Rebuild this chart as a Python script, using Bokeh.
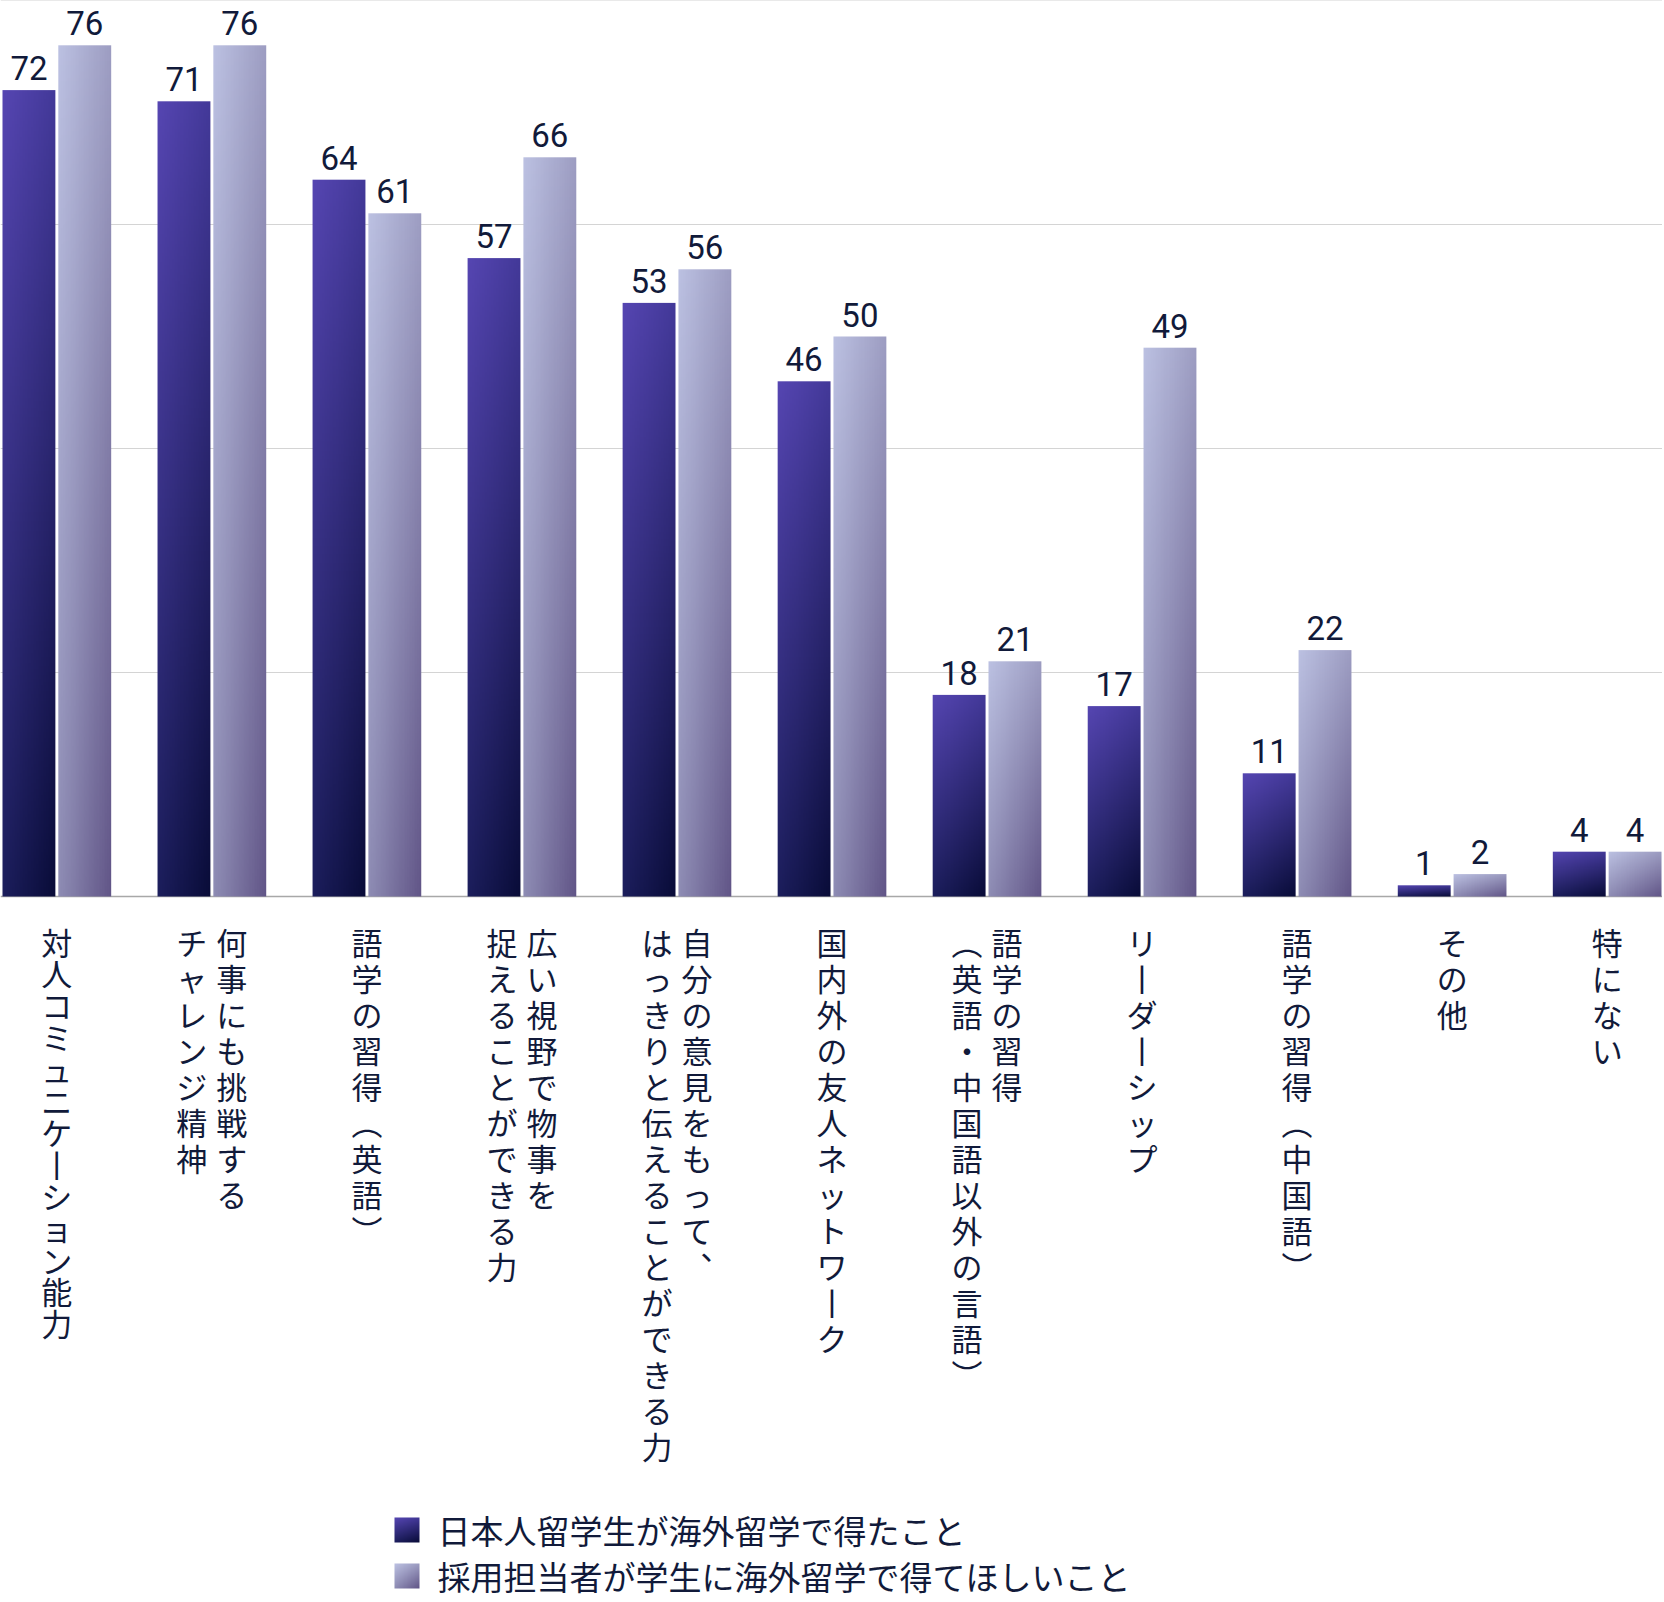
import numpy as np
from bokeh.plotting import figure
from bokeh.models import Range1d, Span
from bokeh.core.properties import value
from bokeh.embed import file_html
from bokeh.resources import INLINE

# ---------------- data ----------------
categories = [
    ["対人コミュニケーション能力"],
    ["何事にも挑戦する", "チャレンジ精神"],
    ["語学の習得（英語）"],
    ["広い視野で物事を", "捉えることができる力"],
    ["自分の意見をもって、", "はっきりと伝えることができる力"],
    ["国内外の友人ネットワーク"],
    ["語学の習得", "（英語・中国語以外の言語）"],
    ["リーダーシップ"],
    ["語学の習得（中国語）"],
    ["その他"],
    ["特にない"],
]
students = [72, 71, 64, 57, 53, 46, 18, 17, 11, 1, 4]
recruiters = [76, 76, 61, 66, 56, 50, 21, 49, 22, 2, 4]
series_names = ["日本人留学生が海外留学で得たこと", "採用担当者が学生に海外留学で得てほしいこと"]
grid_ticks = [20, 40, 60, 80]

# ---------------- layout helpers ----------------
W, H = 1662, 1600
BAR_W = 0.341
OFF = 0.180
n_cat = len(categories)
_left_edge = -OFF - BAR_W / 2
_right_edge = (n_cat - 1) + OFF + BAR_W / 2
SX = (1661 - 2) / (_right_edge - _left_edge)
X0 = _left_edge - 2 / SX
X1 = X0 + W / SX
SY = 896 / 80
Y1 = 80
Y0 = -(H - 896) / SY


def px2x(px):
    return X0 + px / SX


def py2y(py):
    return -(py - 896) / SY


FONT = value("Noto Sans CJK JP")
NUM_FONT = value("Roboto")
TXT = "#111a3a"


def grad(tl, tr, bl, br, w=32, h=256):
    tl, tr, bl, br = [np.array([int(c[i:i + 2], 16) for i in (1, 3, 5)], float) for c in (tl, tr, bl, br)]
    u = np.linspace(0, 1, w)[None, :, None]
    v = np.linspace(1, 0, h)[:, None, None]  # row 0 = bottom -> v=1
    col = (1 - u) * (1 - v) * tl + u * (1 - v) * tr + (1 - u) * v * bl + u * v * br
    img = np.empty((h, w), dtype=np.uint32)
    view = img.view(dtype=np.uint8).reshape((h, w, 4))
    view[..., :3] = np.clip(col, 0, 255).astype(np.uint8)
    view[..., 3] = 255
    return img


dark_img = grad("#5646b2", "#433999", "#1c1e5c", "#090c38")
light_img = grad("#bcc1e2", "#9d9dc2", "#8e8cb4", "#615587")

p = figure(width=W, height=H, x_range=Range1d(X0, X1), y_range=Range1d(Y0, Y1),
           output_backend="svg", toolbar_location=None,
           x_axis_location=None, y_axis_location=None, min_border=0)
p.outline_line_color = None
p.xgrid.visible = False
p.ygrid.visible = False
p.background_fill_color = "white"
p.border_fill_color = "white"

for t in grid_ticks:
    p.add_layout(Span(location=t, dimension="width", line_color="#d4d4d4", line_width=1, level="underlay"))
p.add_layout(Span(location=0, dimension="width", line_color="#a8a8a8", line_width=1.5, level="underlay"))

idx = np.arange(n_cat)
for i in idx:
    p.image_rgba(image=[dark_img], x=i - OFF - BAR_W / 2, y=0, dw=BAR_W, dh=students[i])
    p.image_rgba(image=[light_img], x=i + OFF - BAR_W / 2, y=0, dw=BAR_W, dh=recruiters[i])

# value labels
gap = 10 / SY
p.text(x=list(idx - OFF), y=[v + gap for v in students], text=[str(v) for v in students], text_font=NUM_FONT,
       text_font_size="33px", text_color=TXT, text_align="center", text_baseline="bottom")
p.text(x=list(idx + OFF), y=[v + gap for v in recruiters], text=[str(v) for v in recruiters], text_font=NUM_FONT,
       text_font_size="33px", text_color=TXT, text_align="center", text_baseline="bottom")

# vertical category labels
VMAP = {"ー": "丨", "（": "︵", "）": "︶", "、": "︑"}


def vert(s):
    return "\n".join(VMAP.get(c, c) for c in s)


col_gap = 40 / SX
lx, ly, lt, tight_x, tight_y, tight_t = [], [], [], [], [], []
for i, lines in enumerate(categories):
    n = len(lines)
    for j, line in enumerate(lines):
        xc = i + (col_gap / 2 if n == 2 and j == 0 else (-col_gap / 2 if n == 2 else 0))
        if len(line) > 12 and n == 1:
            tight_x.append(xc); tight_y.append(py2y(918)); tight_t.append(vert(line))
        else:
            lx.append(xc); ly.append(py2y(918)); lt.append(vert(line))

p.text(x=lx, y=ly, text=lt, text_font=FONT, text_font_size="31px", text_color=TXT,
       text_align="center", text_baseline="top", text_line_height=0.80)
p.text(x=tight_x, y=tight_y, text=tight_t, text_font=FONT, text_font_size="31px", text_color=TXT,
       text_align="center", text_baseline="top", text_line_height=0.707)

# legend
sq = 25
for k, (img, name) in enumerate(zip([dark_img, light_img], series_names)):
    top = 1517 + k * 46
    p.image_rgba(image=[img], x=px2x(394), y=py2y(top + sq), dw=sq / SX, dh=sq / SY)
    p.text(x=[px2x(437)], y=[py2y(top + sq / 2)], text=[name], text_font=FONT, text_font_size="33px",
           text_color=TXT, text_align="left", text_baseline="middle")

open("out.html", "w").write(file_html(p, INLINE))
